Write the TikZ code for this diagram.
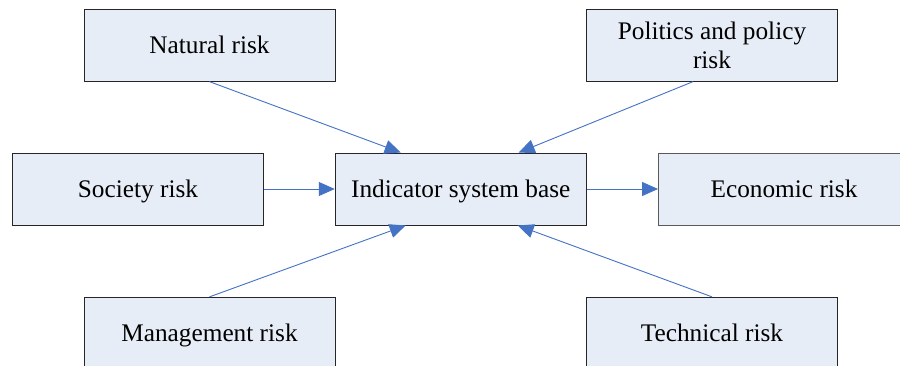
\documentclass[tikz,border=0pt]{standalone}
\usepackage{fontspec}
\setmainfont{Liberation Serif}
\usetikzlibrary{arrows.meta}
\definecolor{boxfill}{HTML}{E7EDF7}
\definecolor{arrowblue}{HTML}{4472C4}
\begin{document}
\begin{tikzpicture}[x=1pt,y=-1pt,
  riskbox/.style={draw=black!85, fill=boxfill, line width=0.9pt, minimum width=251pt, minimum height=72pt, inner sep=0pt, align=center, font=\fontsize{25.3}{29}\selectfont},
  oneline/.style={riskbox, text height=16.8pt, text depth=0pt},
  link/.style={draw=arrowblue, line width=0.9pt, -{Triangle[length=16pt,width=14pt]}}]
\clip (0,0) rectangle (900,366);
\fill[white] (0,0) rectangle (900,366);
\node[oneline] (nat) at (209.5,45.2) {Natural risk};
\node[riskbox] (pol) at (712,45.2) {Politics and policy\\risk};
\node[oneline] (soc) at (138,189) {Society risk};
\node[oneline] (ind) at (460.7,189) {Indicator system base};
\node[oneline, draw=black!65] (eco) at (784,189) {Economic risk};
\node[oneline] (man) at (209.5,333.3) {Management risk};
\node[oneline] (tec) at (712,333.3) {Technical risk};
\draw[link] (nat.south) -- ([xshift=-60pt]ind.north);
\draw[link] ([xshift=-19pt]pol.south) -- ([xshift=58pt]ind.north);
\draw[link] (soc.east) -- (ind.west);
\draw[link] (ind.east) -- (eco.west);
\draw[link] (man.north) -- ([xshift=-55pt]ind.south);
\draw[link] (tec.north) -- ([xshift=57pt]ind.south);
\end{tikzpicture}
\end{document}
